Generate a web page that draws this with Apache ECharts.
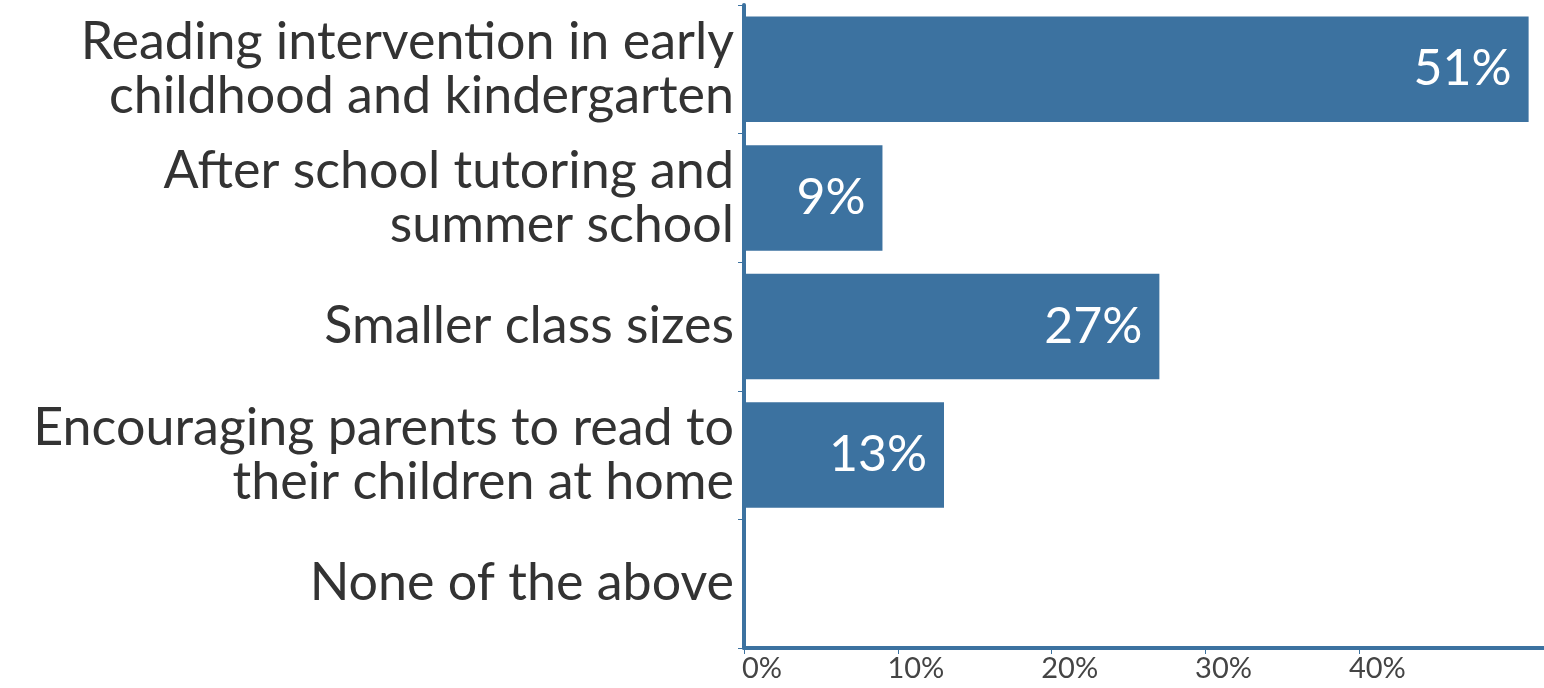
<!DOCTYPE html>
<html>
<head>
<meta charset="utf-8">
<script src="https://cdn.jsdelivr.net/npm/echarts@6/dist/echarts.min.js"></script>
<style>
  html, body { margin: 0; padding: 0; background: #fff; }
  #main { width: 1544px; height: 688px; }
</style>
</head>
<body>
<div id="main"></div>
<script>
const categories = [
  "Reading intervention in early\nchildhood and kindergarten",
  "After school tutoring and\nsummer school",
  "Smaller class sizes",
  "Encouraging parents to read to\ntheir children at home",
  "None of the above"
];
const values = [51, 9, 27, 13, 0];
const tickValues = [0, 10, 20, 30, 40];

const chart = echarts.init(document.getElementById("main"));
const blue = "#3c72a0";

const option = {
  animation: false,
  grid: { left: 744, right: 0, top: 5, bottom: 40 },
  xAxis: {
    type: "value",
    min: 0,
    max: 52,
    splitLine: { show: false },
    axisLine: { show: true, lineStyle: { color: blue, width: 4 } },
    axisTick: { show: true, customValues: tickValues, length: 6, lineStyle: { color: blue, width: 1 } },
    axisLabel: {
      customValues: tickValues,
      formatter: v => v + "%",
      fontFamily: "Lato",
      fontSize: 29,
      color: "#444",
      margin: 6,
      align: "center",
      padding: [0, 0, 0, 36]
    }
  },
  yAxis: {
    type: "category",
    data: categories,
    inverse: true,
    axisLine: { show: true, lineStyle: { color: blue, width: 4 } },
    axisTick: { show: true, length: 6, lineStyle: { color: blue, width: 1 } },
    axisLabel: {
      fontFamily: "Lato",
      fontSize: 52,
      lineHeight: 54,
      color: "#333",
      margin: 10
    }
  },
  series: [{
    type: "bar",
    data: values,
    barCategoryGap: "18%",
    itemStyle: { color: blue },
    label: {
      show: true,
      position: "insideRight",
      distance: 17,
      formatter: p => p.value > 0 ? p.value + "%" : "",
      color: "#fff",
      fontFamily: "Lato",
      fontSize: 50
    }
  }]
};

chart.setOption(option);
</script>
</body>
</html>
